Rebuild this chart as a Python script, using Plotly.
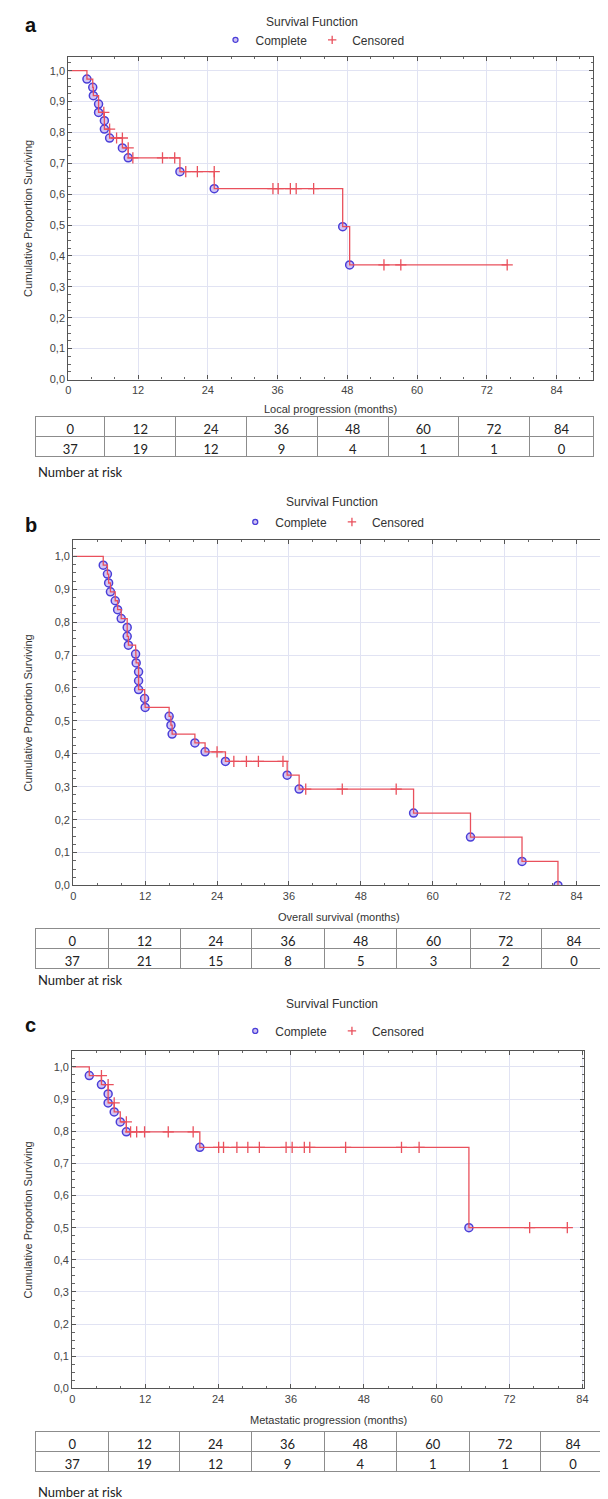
import plotly.graph_objects as go

W, H = 608, 1499

months = [0, 12, 24, 36, 48, 60, 72, 84]
y_ticks = [0.0, 0.1, 0.2, 0.3, 0.4, 0.5, 0.6, 0.7, 0.8, 0.9, 1.0]

# ---- Panel a: Local progression ----
a_event_t = [3.2, 4.2, 4.3, 5.2, 5.2, 6.2, 6.2, 7.1, 9.3, 10.3, 19.2, 25.1, 47.2, 48.4]
a_event_s = [0.973, 0.946, 0.919, 0.892, 0.865, 0.838, 0.811, 0.782, 0.750, 0.718,
             0.673, 0.618, 0.495, 0.371]
a_cens_t = [6.1, 7.1, 8.3, 9.3, 10.3, 11.1, 16.2, 18.3, 20.2, 22.2, 25.1, 35.2, 36.1,
            38.2, 39.2, 42.2, 54.3, 57.2, 75.5]
a_risk = [37, 19, 12, 9, 4, 1, 1, 0]

# ---- Panel b: Overall survival ----
b_event_t = [5.0, 5.7, 5.9, 6.2, 7.0, 7.4, 8.0, 9.0, 9.0, 9.2, 10.4, 10.5, 10.9, 10.9,
             10.9, 11.9, 12.0, 16.0, 16.3, 16.5, 20.3, 22.0, 25.4, 35.7, 37.7, 56.8,
             66.3, 74.9, 80.9]
b_event_s = [0.973, 0.946, 0.919, 0.892, 0.865, 0.838, 0.811, 0.784, 0.757, 0.730,
             0.703, 0.676, 0.649, 0.622, 0.595, 0.568, 0.541, 0.514, 0.487, 0.460,
             0.433, 0.406, 0.377, 0.335, 0.293, 0.220, 0.147, 0.073, 0.0]
b_cens_t = [24.0, 26.8, 28.9, 30.9, 35.0, 38.8, 44.9, 53.9]
b_risk = [37, 21, 15, 8, 5, 3, 2, 0]

# ---- Panel c: Metastatic progression ----
c_event_t = [2.8, 4.8, 5.9, 5.9, 6.9, 7.9, 8.9, 21.0, 65.3]
c_event_s = [0.973, 0.945, 0.916, 0.888, 0.860, 0.829, 0.798, 0.750, 0.500]
c_cens_t = [4.8, 5.9, 6.9, 8.9, 9.6, 10.6, 11.9, 15.8, 19.9, 24.1, 24.9, 27.1, 28.9,
            30.8, 35.2, 36.2, 38.2, 39.1, 45.0, 54.2, 57.1, 75.3, 81.5]
c_risk = [37, 19, 12, 9, 4, 1, 1, 0]

x_titles = ["Local progression (months)", "Overall survival (months)",
            "Metastatic progression (months)"]
letters = ["a", "b", "c"]

# layout geometry in pixels (left, right, top, bottom of plot frame)
panels = [
    dict(ev_t=a_event_t, ev_s=a_event_s, cen=a_cens_t, risk=a_risk,
         px=(58, 589), py=(49, 373), xr=[0, 90.3], yr=[0, 1.045],
         title_y=14, leg_y=32, xc=305, xt_y=403, tab=(25, 590, 410), nar_y=466,
         letter_y=17, colw=[70, 72, 71, 72, 72, 71, 72, 65]),
    dict(ev_t=b_event_t, ev_s=b_event_s, cen=b_cens_t, risk=b_risk,
         px=(63, 600), py=(534, 881), xr=[0, 88.6], yr=[0, 1.05],
         title_y=496, leg_y=516, xc=325, xt_y=913, tab=(25, 603, 924), nar_y=976,
         letter_y=519, colw=[74, 72, 72, 74, 73, 74, 72, 66]),
    dict(ev_t=c_event_t, ev_s=c_event_s, cen=c_cens_t, risk=c_risk,
         px=(62, 580), py=(1047, 1386), xr=[0, 84.3], yr=[0, 1.05],
         title_y=1000, leg_y=1027, xc=325, xt_y=1418, tab=(25, 602, 1429), nar_y=1490,
         letter_y=1021, colw=[74, 72, 72, 74, 73, 74, 72, 66]),
]


def fx(p):
    return p / W


def fy(p):
    return 1 - p / H


def step_curve(evt, evs, end):
    xs, ys, cur = [0.0], [1.0], 1.0
    for t, s in zip(evt, evs):
        xs += [t, t]
        ys += [cur, s]
        cur = s
    if end > xs[-1]:
        xs.append(end)
        ys.append(cur)
    return xs, ys


def level_at(evt, evs, tc):
    cur = 1.0
    for t, s in zip(evt, evs):
        if t < tc:
            cur = s
    return cur


LINE_RED = "#e9505c"
BLUE = "#4a3fd8"
FONT = "Liberation Sans"


def ann(text, x, y, size=11, xanchor="center", family=FONT, color="#333333", **kw):
    return dict(text=text, x=fx(x), y=fy(y), xref="paper", yref="paper",
                showarrow=False, xanchor=xanchor, yanchor="middle",
                font=dict(family=family, size=size, color=color), **kw)


fig = go.Figure()
annotations = []
layout_extra = {}

for i, p in enumerate(panels):
    n = i + 1
    xa = "x" if n == 1 else f"x{n}"
    ya = "y" if n == 1 else f"y{n}"
    leg = "legend" if n == 1 else f"legend{n}"
    end = max(max(p["ev_t"]), max(p["cen"]))
    sx, sy = step_curve(p["ev_t"], p["ev_s"], end)
    cy = [level_at(p["ev_t"], p["ev_s"], t) for t in p["cen"]]

    # legend-only small symbols
    fig.add_trace(go.Scatter(
        x=[None], y=[None], mode="markers", name="Complete",
        xaxis=xa, yaxis=ya, legend=leg, showlegend=True,
        marker=dict(symbol="circle", size=5, color="rgba(175,150,235,0.6)",
                    line=dict(color=BLUE, width=1.3))))
    fig.add_trace(go.Scatter(
        x=[None], y=[None], mode="markers", name="Censored",
        xaxis=xa, yaxis=ya, legend=leg, showlegend=True,
        marker=dict(symbol="cross-thin", size=6, color=LINE_RED,
                    line=dict(color=LINE_RED, width=1.3))))

    fig.add_trace(go.Scatter(
        x=p["ev_t"], y=p["ev_s"], mode="markers", name="Complete",
        xaxis=xa, yaxis=ya, showlegend=False,
        marker=dict(symbol="circle", size=8, color="rgba(175,150,235,0.55)",
                    line=dict(color=BLUE, width=1.5)),
        hoverinfo="skip"))
    fig.add_trace(go.Scatter(
        x=sx, y=sy, mode="lines", xaxis=xa, yaxis=ya, showlegend=False,
        line=dict(color=LINE_RED, width=1.3), hoverinfo="skip"))
    fig.add_trace(go.Scatter(
        x=p["cen"], y=cy, mode="markers", name="Censored",
        xaxis=xa, yaxis=ya, showlegend=False,
        marker=dict(symbol="cross-thin", size=8, color=LINE_RED,
                    line=dict(color=LINE_RED, width=1.3)),
        hoverinfo="skip"))

    axis_common = dict(
        showline=True, linecolor="#555555", linewidth=1.2, mirror="ticks",
        showgrid=True, gridcolor="#e1e3f3", gridwidth=1, zeroline=False,
        ticks="inside", ticklen=4, tickcolor="#555555",
        tickfont=dict(family=FONT, size=11, color="#444444"),
    )
    layout_extra["xaxis" if n == 1 else f"xaxis{n}"] = dict(
        axis_common, domain=[fx(p["px"][0]), fx(p["px"][1])], range=p["xr"],
        tickvals=months, anchor=ya,
        minor=dict(dtick=4, tick0=0, ticks="inside", ticklen=2.5, tickcolor="#666666",
                   showgrid=False))
    layout_extra["yaxis" if n == 1 else f"yaxis{n}"] = dict(
        axis_common, domain=[fy(p["py"][1]), fy(p["py"][0])], range=p["yr"],
        tickvals=y_ticks, tickformat=".1f", anchor=xa,
        minor=dict(dtick=0.025, tick0=0, ticks="inside", ticklen=2.5,
                   tickcolor="#666666", showgrid=False))
    layout_extra[leg] = dict(
        orientation="h", x=fx(p["xc"]), xanchor="center", y=fy(p["leg_y"]),
        yanchor="middle", font=dict(family=FONT, size=12, color="#333333"),
        bgcolor="rgba(0,0,0,0)", itemwidth=30, tracegroupgap=0,
        borderwidth=0)

    annotations.append(ann("Survival Function", p["xc"], p["title_y"], size=12))
    annotations.append(ann("<b>%s</b>" % letters[i], 12, p["letter_y"], size=20,
                           xanchor="left", color="#111111"))
    annotations.append(ann("Cumulative Proportion Surviving", 17,
                           (p["py"][0] + p["py"][1]) / 2, size=11, textangle=-90))
    annotations.append(ann(x_titles[i], (p["px"][0] + p["px"][1]) / 2, p["xt_y"],
                           size=11))
    annotations.append(ann("Number at risk", 25, p["nar_y"], size=13, xanchor="left",
                           family="Lato", color="#222222"))

    tl, tr, tt = p["tab"]
    fig.add_trace(go.Table(
        domain=dict(x=[fx(tl), fx(tr)], y=[fy(tt + 46), fy(tt)]),
        columnwidth=p["colw"],
        header=dict(values=[str(m) for m in months], height=20, align="center",
                    line=dict(color="#8c8c8c", width=1), fill=dict(color="white"),
                    font=dict(family="Lato", size=13, color="#222222")),
        cells=dict(values=[[str(r)] for r in p["risk"]], height=20, align="center",
                   line=dict(color="#8c8c8c", width=1), fill=dict(color="white"),
                   font=dict(family="Lato", size=13, color="#222222")),
    ))

fig.update_layout(
    width=W, height=H, margin=dict(l=0, r=0, t=0, b=0),
    paper_bgcolor="white", plot_bgcolor="white",
    separators=", ", annotations=annotations, **layout_extra)

fig.write_html("out.html")
